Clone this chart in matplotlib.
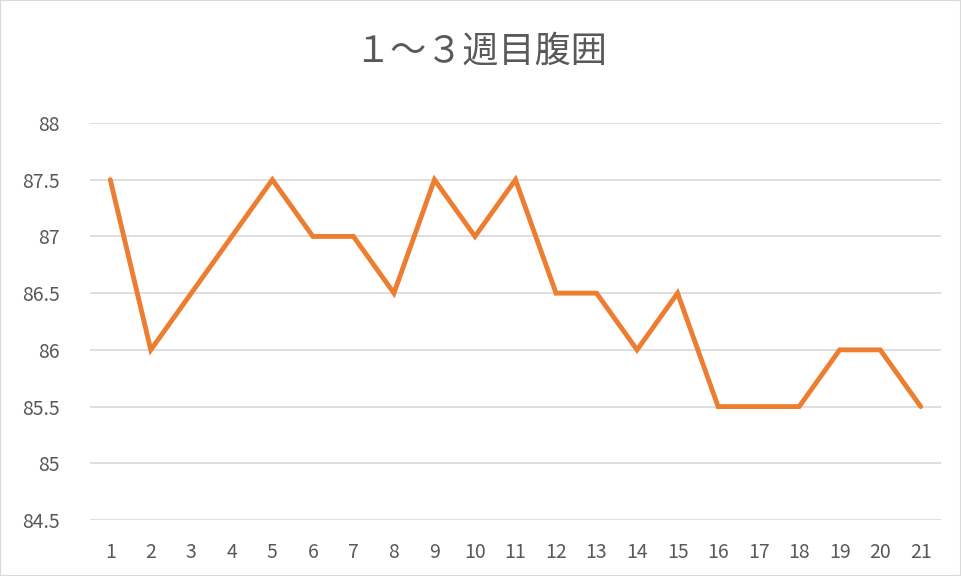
import matplotlib
matplotlib.use('Agg')
import matplotlib.pyplot as plt

plt.rcParams['font.family'] = ['Noto Sans CJK JP', 'DejaVu Sans']

days = list(range(1, 22))
waist = [87.5, 86, 86.5, 87, 87.5, 87, 87, 86.5, 87.5, 87, 87.5,
         86.5, 86.5, 86, 86.5, 85.5, 85.5, 85.5, 86, 86, 85.5]
yticks = [84.5, 85, 85.5, 86, 86.5, 87, 87.5, 88]
ytick_labels = ['84.5', '85', '85.5', '86', '86.5', '87', '87.5', '88']

fig = plt.figure(figsize=(9.61, 5.76), dpi=100)
ax = fig.add_axes([90 / 961, 1 - 520 / 576, 851 / 961, 397 / 576])

ax.plot(days, waist, color='#ED7D31', linewidth=3.5, solid_joinstyle='miter',
        solid_capstyle='round', zorder=3)

ax.set_xlim(0.5, 21.5)
ax.set_ylim(84.5, 88)
ax.set_xticks(days)
ax.set_xticklabels([str(d) for d in days])
ax.set_yticks(yticks)
ax.set_yticklabels(ytick_labels)
ax.grid(axis='y', color='#D9D9D9', linewidth=1.2)
ax.set_axisbelow(True)
for s in ax.spines.values():
    s.set_visible(False)
ax.tick_params(length=0, labelsize=14, colors='#595959', pad=16)
ax.tick_params(axis='y', pad=22)

fig.text(0.5, 1 - 52 / 576, '１～３週目腹囲', ha='center', va='center',
         fontsize=26, color='#595959')

fig.patches.append(plt.Rectangle((0, 0), 1, 1, transform=fig.transFigure,
                                 fill=False, edgecolor='#D9D9D9', linewidth=1.5))

fig.savefig('out.png', dpi=100)
